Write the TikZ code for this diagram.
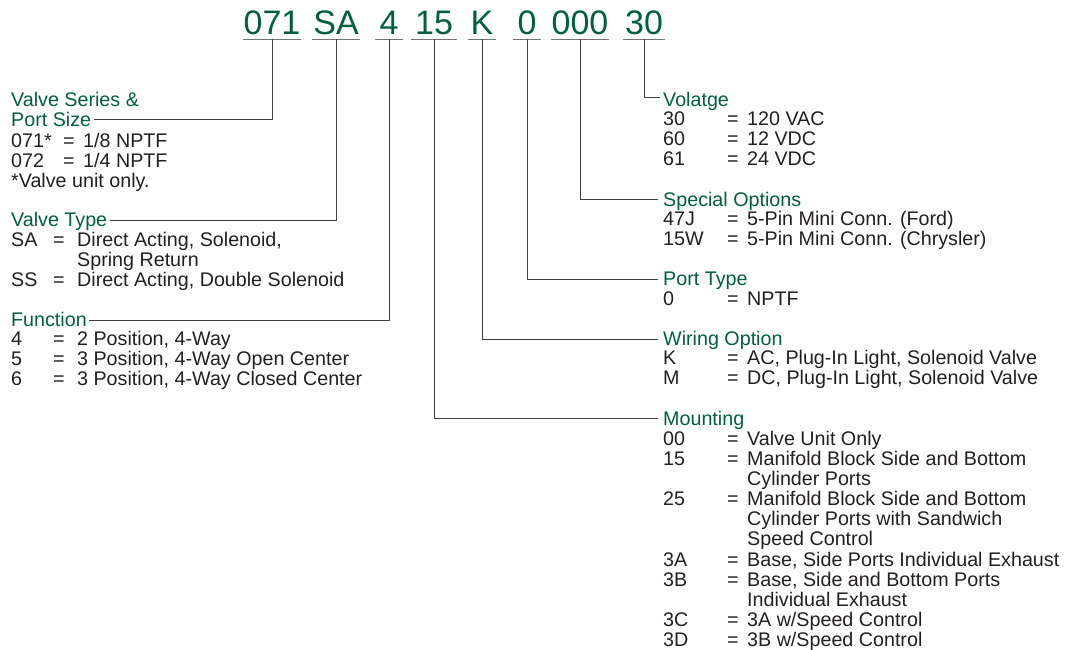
\documentclass[tikz,border=0pt]{standalone}
\usepackage{fontspec}
\setmainfont{Liberation Sans}
\definecolor{vgreen}{HTML}{00603C}
\definecolor{txt}{HTML}{231F20}
\newcommand\rrow[2]{\makebox[64pt][l]{#1}\makebox[20pt][l]{=}#2}
\newcommand\lrow[2]{\makebox[42pt][l]{#1}\makebox[24pt][l]{=}#2}
\newcommand\srow[2]{\makebox[52pt][l]{#1}\makebox[20pt][l]{=}#2}
\begin{document}
\begin{tikzpicture}[x=1pt,y=-1pt,
  code/.style={font=\fontsize{34}{34}\selectfont, text=vgreen, inner sep=0pt, anchor=base},
  head/.style={font=\fontsize{19.7}{20}\selectfont, text=vgreen, inner sep=0pt, anchor=base west},
  body/.style={font=\fontsize{19.7}{19.7}\selectfont, text=txt, inner sep=0pt, anchor=base west},
  uline/.style={draw=black!55, line width=1.2pt},
  conn/.style={draw=black!75, line width=1pt},
]
\useasboundingbox (0,0) rectangle (1065,650);
% code
\node[code, minimum width=53pt] (c1) at (272,35) {071};
\node[code, minimum width=47pt] (c2) at (336,35) {SA};
\node[code, minimum width=28pt] (c3) at (389,35) {4};
\node[code, minimum width=46pt] (c4) at (434,35) {15};
\node[code, minimum width=28pt] (c5) at (482,35) {K};
\node[code, minimum width=28pt] (c6) at (527,35) {0};
\node[code, minimum width=47pt] (c7) at (580,35) {000};
\node[code, minimum width=42pt] (c8) at (644,35) {30};
\foreach \c in {c1,c2,c3,c4,c5,c6,c7,c8}
  \draw[uline] ([shift={(0,4.5)}]\c.base west) -- ([shift={(0,4.5)}]\c.base east);
% left headings and bodies
\node[head] (h1a) at (11,106.5) {Valve Series \&};
\node[head] (h1) at (11,126.3) {Port Size};
\node[body] (b1) at (11,147) {\begin{tabular}[t]{@{}l@{}}\srow{071*}{1/8 NPTF}\\\srow{072}{1/4 NPTF}\\{*}Valve unit only.\end{tabular}};
\node[head] (h2) at (11,226) {Valve Type};
\node[body] (b2) at (11,246) {\begin{tabular}[t]{@{}l@{}}\lrow{SA}{Direct Acting, Solenoid,}\\\hspace*{66pt}Spring Return\\\lrow{SS}{Direct Acting, Double Solenoid}\end{tabular}};
\node[head] (h3) at (11,326) {Function};
\node[body] (b3) at (11,345.5) {\begin{tabular}[t]{@{}l@{}}\lrow{4}{2 Position, 4-Way}\\\lrow{5}{3 Position, 4-Way Open Center}\\\lrow{6}{3 Position, 4-Way Closed Center}\end{tabular}};
% right headings and bodies
\node[head] (h8) at (663,106.5) {Volatge};
\node[body] (b8) at (663,126) {\begin{tabular}[t]{@{}l@{}}\rrow{30}{120 VAC}\\\rrow{60}{12 VDC}\\\rrow{61}{24 VDC}\end{tabular}};
\node[head] (h7) at (663,206) {Special Options};
\node[body] (b7) at (663,225.5) {\begin{tabular}[t]{@{}l@{}}\rrow{47J}{5-Pin Mini Conn. (Ford)}\\\rrow{15W}{5-Pin Mini Conn. (Chrysler)}\end{tabular}};
\node[head] (h6) at (663,285) {Port Type};
\node[body] (b6) at (663,305) {\begin{tabular}[t]{@{}l@{}}\rrow{0}{NPTF}\end{tabular}};
\node[head] (h5) at (663,345) {Wiring Option};
\node[body] (b5) at (663,364.5) {\begin{tabular}[t]{@{}l@{}}\rrow{K}{AC, Plug-In Light, Solenoid Valve}\\\rrow{M}{DC, Plug-In Light, Solenoid Valve}\end{tabular}};
\node[head] (h4) at (663,425.5) {Mounting};
\node[body] (b4) at (663,445) {\begin{tabular}[t]{@{}l@{}}\rrow{00}{Valve Unit Only}\\\rrow{15}{Manifold Block Side and Bottom}\\\hspace*{84pt}Cylinder Ports\\\rrow{25}{Manifold Block Side and Bottom}\\\hspace*{84pt}Cylinder Ports with Sandwich\\\hspace*{84pt}Speed Control\\\rrow{3A}{Base, Side Ports Individual Exhaust}\\\rrow{3B}{Base, Side and Bottom Ports}\\\hspace*{84pt}Individual Exhaust\\\rrow{3C}{3A w/Speed Control}\\\rrow{3D}{3B w/Speed Control}\end{tabular}};
% connectors
\draw[conn] ([shift={(0,4.5)}]c1.base) |- ([shift={(3,-7)}]h1.base east);
\draw[conn] ([shift={(0,4.5)}]c2.base) |- ([shift={(3,-6)}]h2.base east);
\draw[conn] ([shift={(0,4.5)}]c3.base) |- ([shift={(2,-6)}]h3.base east);
\draw[conn] ([shift={(0,4.5)}]c4.base) |- ([shift={(-5,-7.5)}]h4.base west);
\draw[conn] ([shift={(0,4.5)}]c5.base) |- ([shift={(-5,-6)}]h5.base west);
\draw[conn] ([shift={(0,4.5)}]c6.base) |- ([shift={(-5,-6)}]h6.base west);
\draw[conn] ([shift={(0,4.5)}]c7.base) |- ([shift={(-5,-7)}]h7.base west);
\draw[conn] ([shift={(0,4.5)}]c8.base) |- ([shift={(-3,-8.5)}]h8.base west);
\end{tikzpicture}
\end{document}
